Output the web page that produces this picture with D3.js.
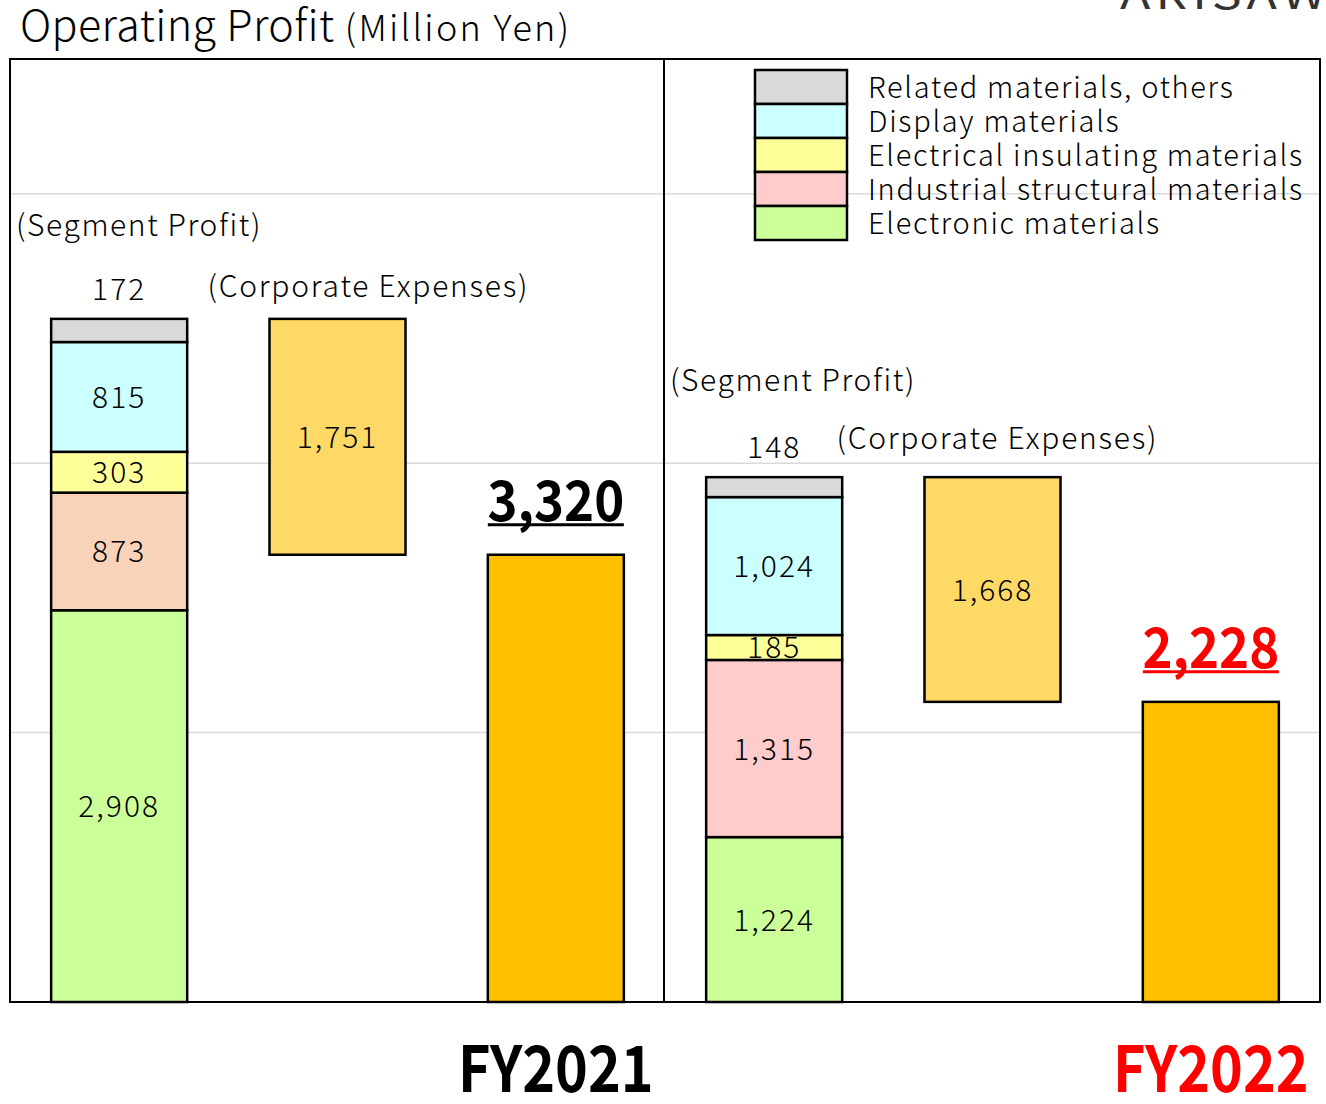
<!doctype html>
<html>
<head>
<script type='text/javascript' src='https://d3js.org/d3.v7.min.js'></script>
<style>
body { margin: 0; background: #fff; }
text { font-family: "Noto Sans CJK JP", "Noto Sans", sans-serif; }
</style>
</head>
<body>
<script>
var width = 1326, height = 1104;

// data
var years = ['FY2021', 'FY2022'];
var segments = ['Electronic materials', 'Industrial structural materials', 'Electrical insulating materials', 'Display materials', 'Related materials, others'];
var segProfit2021 = [2908, 873, 303, 815, 172];
var segProfit2022 = [1224, 1315, 185, 1024, 148];
var corporateExpenses = [1751, 1668];
var operatingProfit = [3320, 2228];
var yTicks = [2000, 4000, 6000];

var segColors2021 = ['#CCFF99', '#F8D3BA', '#FFFF99', '#CCFFFF', '#D9D9D9'];
var segColors2022 = ['#CCFF99', '#FFCCCC', '#FFFF99', '#CCFFFF', '#D9D9D9'];
var legendColors = ['#CCFF99', '#FFCCCC', '#FFFF99', '#CCFFFF', '#D9D9D9'];
var yearColors = ['#000000', '#FF0000'];

// per-panel text placement
var segNoteDy = [-83, -86];
var corpNoteDx = [-62, -88];
var corpNoteDy = [-22, -28];

var fmt = d3.format(',');

var svg = d3.select('body').append('svg').attr('width', width).attr('height', height);

var plot = {left: 10, right: 1320, top: 59, bottom: 1002};

var cols = [];
years.forEach(function(y) { cols.push(y + '|seg', y + '|corp', y + '|total'); });

var x = d3.scaleBand().domain(cols).range([plot.left, plot.right])
  .paddingInner(0.377).paddingOuter(0.1885);
var y = d3.scaleLinear().domain([0, 7000]).range([plot.bottom, plot.top]);

function label(g, px, py, txt, size, opts) {
  opts = opts || {};
  var t = g.append('text')
    .attr('transform', 'translate(' + px + ',' + py + ') scale(' + (opts.sx || 1) + ',1)')
    .attr('text-anchor', opts.anchor || 'middle')
    .attr('font-size', size)
    .attr('font-weight', opts.weight || 300)
    .attr('letter-spacing', opts.ls == null ? 1.6 : opts.ls)
    .attr('fill', opts.fill || '#000')
    .text(txt);
  return t;
}

// gridlines
svg.append('g').selectAll('line').data(yTicks).join('line')
  .attr('x1', plot.left).attr('x2', plot.right)
  .attr('y1', function(d) { return y(d); }).attr('y2', function(d) { return y(d); })
  .attr('stroke', '#D9D9D9').attr('stroke-width', 1.5);

var bars = svg.append('g');

years.forEach(function(yr, i) {
  var vals = i === 0 ? segProfit2021 : segProfit2022;
  var colors = i === 0 ? segColors2021 : segColors2022;
  var stack = [];
  var acc = 0;
  vals.forEach(function(v, k) { stack.push({y0: acc, y1: acc + v, v: v, c: colors[k], k: k}); acc += v; });
  var xs = x(yr + '|seg'), bw = x.bandwidth();

  bars.selectAll('rect.seg' + i).data(stack).join('rect')
    .attr('class', 'seg' + i)
    .attr('x', xs).attr('width', bw)
    .attr('y', function(d) { return y(d.y1); })
    .attr('height', function(d) { return y(d.y0) - y(d.y1); })
    .attr('fill', function(d) { return d.c; })
    .attr('stroke', '#000').attr('stroke-width', 2.5);

  stack.forEach(function(d) {
    if (d.k === stack.length - 1) {
      label(bars, xs + bw / 2, y(d.y1) - 19, fmt(d.v), 30, {ls: 2});
    } else {
      label(bars, xs + bw / 2, (y(d.y0) + y(d.y1)) / 2 + 11, fmt(d.v), 30, {ls: 2});
    }
  });

  // corporate expenses (floating)
  var xc = x(yr + '|corp');
  bars.append('rect')
    .attr('x', xc).attr('width', bw)
    .attr('y', y(acc)).attr('height', y(operatingProfit[i]) - y(acc))
    .attr('fill', '#FFD966').attr('stroke', '#000').attr('stroke-width', 2.5);
  label(bars, xc + bw / 2, (y(acc) + y(operatingProfit[i])) / 2 + 11, fmt(corporateExpenses[i]), 30, {ls: 2});

  // operating profit
  var xt = x(yr + '|total');
  bars.append('rect')
    .attr('x', xt).attr('width', bw)
    .attr('y', y(operatingProfit[i])).attr('height', y(0) - y(operatingProfit[i]))
    .attr('fill', '#FFC000').attr('stroke', '#000').attr('stroke-width', 2.5);
  label(bars, xt + bw / 2, y(operatingProfit[i]) - 34, fmt(operatingProfit[i]), 56, {weight: 'bold', fill: yearColors[i], sx: 0.91, ls: 0});
  bars.append('line')
    .attr('x1', xt).attr('x2', xt + bw)
    .attr('y1', y(operatingProfit[i]) - 30).attr('y2', y(operatingProfit[i]) - 30)
    .attr('stroke', yearColors[i]).attr('stroke-width', 3);

  // annotations
  label(bars, plot.left + i * 654 + 6, y(acc) + segNoteDy[i], '(Segment Profit)', 30, {anchor: 'start'});
  label(bars, xc + corpNoteDx[i], y(acc) + corpNoteDy[i], '(Corporate Expenses)', 30, {anchor: 'start', ls: 1.75});

  // year label
  label(svg, xt + bw / 2, 1092, yr, 64, {weight: 'bold', fill: yearColors[i], sx: 0.87, ls: 0});
});

// frame and divider
svg.append('rect')
  .attr('x', plot.left).attr('y', plot.top)
  .attr('width', plot.right - plot.left).attr('height', plot.bottom - plot.top)
  .attr('fill', 'none').attr('stroke', '#000').attr('stroke-width', 2);
svg.append('line')
  .attr('x1', 664).attr('x2', 664).attr('y1', plot.top).attr('y2', plot.bottom)
  .attr('stroke', '#000').attr('stroke-width', 2);

// legend (top entry first)
var legend = svg.append('g');
var legendOrder = d3.range(segments.length).reverse();
legendOrder.forEach(function(k, j) {
  legend.append('rect')
    .attr('x', 755).attr('y', 70 + j * 34).attr('width', 92).attr('height', 34)
    .attr('fill', legendColors[k]).attr('stroke', '#000').attr('stroke-width', 2.5);
  label(legend, 868, 98 + j * 34, segments[k], 29, {anchor: 'start', ls: 1.7});
});

// title
var title = label(svg, 20, 41, 'Operating Profit', 43, {anchor: 'start', ls: 0.4});
title.append('tspan').attr('font-size', 36).attr('letter-spacing', 2.3).text(' (Million Yen)');

// logo, cut at the top edge
label(svg, 1120, 9, 'ARISAWA', 40, {anchor: 'start', fill: '#333', weight: 400, sx: 1.25, ls: 4});

console.log('ready..');
</script>
</body>
</html>
